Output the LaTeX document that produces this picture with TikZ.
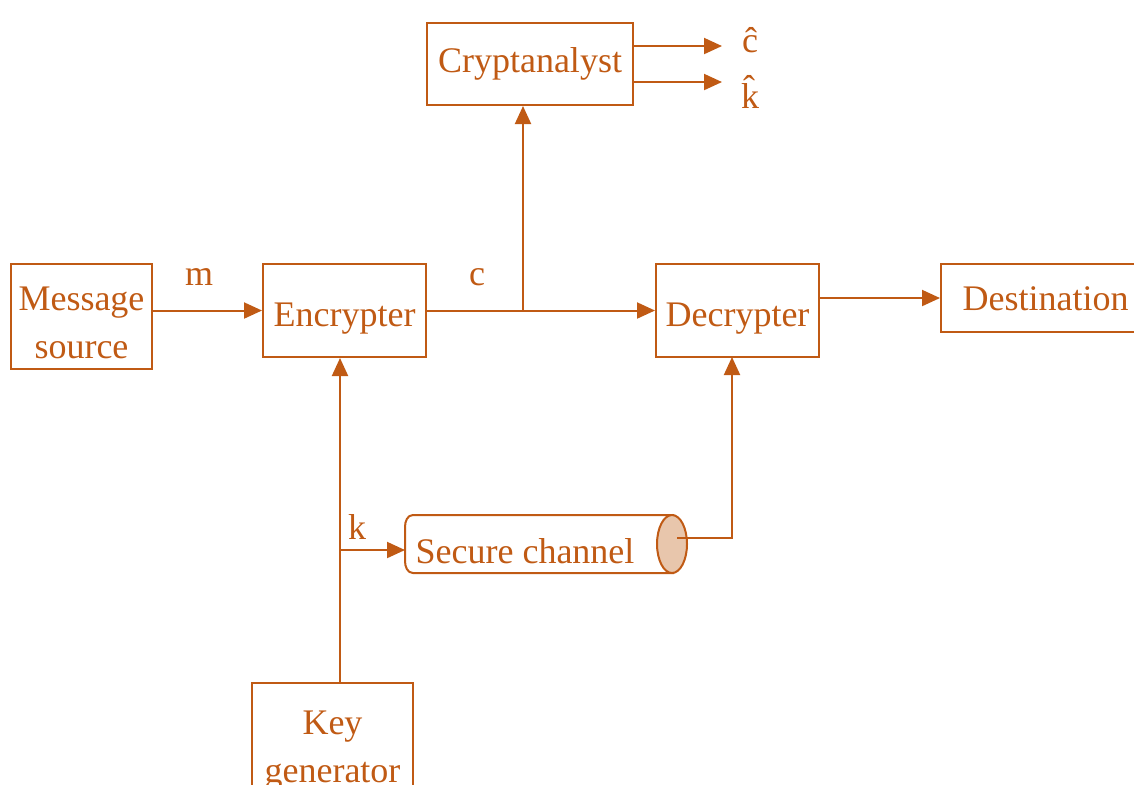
\documentclass[tikz,border=0pt]{standalone}
\usepackage{fontspec}
\setmainfont{Liberation Serif}
\usetikzlibrary{arrows.meta,calc}
\definecolor{brn}{RGB}{192,90,20}
\definecolor{peach}{RGB}{232,198,172}
\newcommand{\lowered}[2]{\raisebox{-#1}[\height][\depth]{\begin{tabular}{@{}c@{}}#2\end{tabular}}}
\begin{document}
\begin{tikzpicture}[x=0.5pt,y=-0.5pt,
  box/.style={draw=brn,line width=1pt,rectangle,inner sep=0pt,align=center,text=brn,font=\fontsize{18}{24}\selectfont},
  lbl/.style={text=brn,inner sep=0pt,font=\fontsize{18}{24}\selectfont},
  arr/.style={draw=brn,line width=1pt,-{Triangle[length=9pt,width=8pt]}},
  ln/.style={draw=brn,line width=1pt}]
\useasboundingbox (0,0) rectangle (1134,784);
\clip (0,0) rectangle (1134,784);
\node[box,minimum width=70.5pt,minimum height=52.5pt] (ms) at (81.5,316.5) {\lowered{4pt}{Message\\source}};
\node[box,minimum width=81.5pt,minimum height=46.5pt] (enc) at (344.5,310.5) {\lowered{3pt}{Encrypter}};
\node[box,minimum width=103pt,minimum height=41pt] (crypt) at (530,64) {Cryptanalyst};
\node[box,minimum width=81.5pt,minimum height=46.5pt] (dec) at (737.5,310.5) {\lowered{3pt}{Decrypter}};
\node[box,minimum width=104.5pt,minimum height=34pt] (dest) at (1045.5,298) {\lowered{1.5pt}{Destination}};
\node[box,minimum width=80.5pt,minimum height=61pt] (kg) at (332.5,744) {\lowered{2.5pt}{Key\\generator}};
% secure channel
\draw[ln,fill=white] (674,515) -- (413,515) to[out=180,in=90] (405,527) -- (405,561) to[out=-90,in=180] (413,573) -- (674,573);
\draw[ln,fill=peach] (672,544) ellipse [x radius=15,y radius=29];
\node[lbl] (sc) at (525,551) {Secure channel};
\coordinate (scw) at (405,550);
\coordinate (ec) at (677,538);
% labels
\node[lbl] (m) at (199,277) {m};
\node[lbl] (c) at (477,277) {c};
\node[lbl] (k) at (357,527) {k};
\node[lbl] (ch) at (750,40) {\^{c}};
\node[lbl] (kh) at (750,92) {\^{k}};
% coordinates
\coordinate (br) at (523,310.5);
\coordinate (kb) at (340,550);
\coordinate (o1) at (722,46);
\coordinate (o2) at (722,82);
\coordinate (du) at (732,357);
% connectors
\draw[arr] (ms.east |- enc.west) -- (enc.west);
\draw[arr] (enc.east) -- (dec.west);
\draw[arr] (br) -- (br |- crypt.south);
\draw[arr] (crypt.east |- o1) -- (o1);
\draw[arr] (crypt.east |- o2) -- (o2);
\draw[arr] (dec.east |- dest.west) -- (dest.west);
\draw[arr] (kg.north -| kb) -- (enc.south -| kb);
\draw[arr] (kb) -- (scw);
\draw[arr] (ec) -| (du);
\end{tikzpicture}
\end{document}
